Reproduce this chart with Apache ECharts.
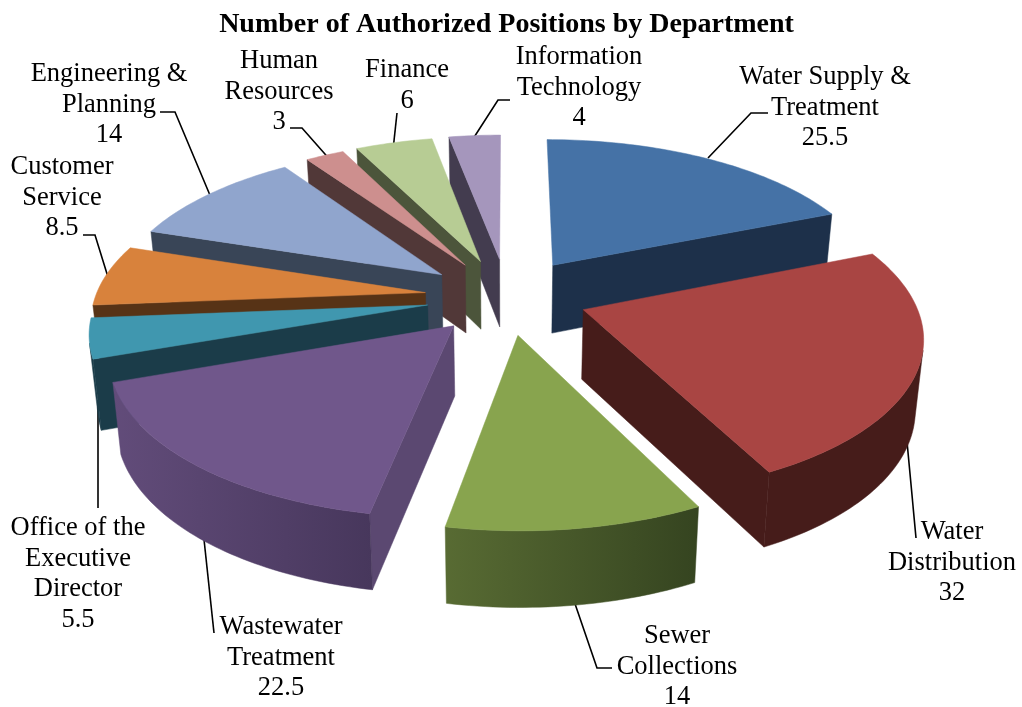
<!DOCTYPE html>
<html><head><meta charset="utf-8">
<style>html,body{margin:0;padding:0;background:#fff}#c{width:1022px;height:707px}</style>
<script src="https://cdn.jsdelivr.net/npm/echarts@6/dist/echarts.min.js"></script>
</head><body><div id="c"></div>
<script>
const departments = ['Water Supply &\nTreatment','Water\nDistribution','Sewer\nCollections','Wastewater\nTreatment','Office of the\nExecutive\nDirector','Customer\nService','Engineering &\nPlanning','Human\nResources','Finance','Information\nTechnology'];
const positions = [25.5,32,14,22.5,5.5,8.5,14,3,6,4];
const topColors = ['#4572a6','#a94543','#88a44e','#70578b','#4097af','#d8823c','#90a5cd','#cd8f8e','#b7cc94','#a596bc'];
const startFace = ['#1d304a','#461c1a','#3a4a20','#5b4871','#1b3c49','#573316','#394557','#513838','#4c553b','#433c4f'];
const endFace   = ['#1d304a','#461c1a','#3a4a20','#4a3a60','#1b3c49','#573316','#394557','#513838','#4c553b','#433c4f'];
const rimStops  = [['#1d304a','#1d304a'],['#461c1a','#461c1a'],['#586b33','#354420'],['#624c7a','#47375c'],['#1b3c49','#1b3c49'],['#573316','#573316'],['#394557','#394557'],['#513838','#513838'],['#4c553b','#4c553b'],['#433c4f','#433c4f']];
const drawOrder = [9,8,7,0,6,5,4,3,1,2];
const CAM = {cx:505,cy:295,a:330,b:153,k:0.15,h:69,kz:0.08,shrink:0.98};
const explode = [0.25,0.25,0.25,0.25,0.25,0.25,0.25,0.25,0.25,0.25];
const nudge = [[3,1],[0,1],[1,1],[4,1],[4,2],[2,2],[1.5,2],[1,2],[1,1.5],[2,1]];
const labelAt = [[825,77],[952,532],[677,636],[281,627],[78,528],[62,167],[109,74],[279,61],[407,70],[579,57]];
const leaders = [[[708,158],[751,113],[768,113]],[[905,420],[916,538]],[[572,595],[597,668],[612,668]],[[203,530],[214,633]],[[98,400],[98,508]],[[112,290],[95,235],[83,235]],[[212,200],[175,112],[160,112]],[[332,162],[302,128],[290,128]],[[393,150],[397,113]],[[471,142],[498,100],[510,100]]];
const FONT='"Liberation Serif","Times New Roman",serif';
const total = positions.reduce((s,v)=>s+v,0);
const starts=[]; positions.reduce((s,v,i)=>{starts[i]=s;return s+v;},0);

function proj(X,Y,z,n){
  const d=1+CAM.k*Y;
  const sx=CAM.cx+(CAM.a*X/d)*(1-(1-CAM.shrink)*z);
  return [sx+n[0], CAM.cy-CAM.b*Y/d+z*CAM.h/(1+CAM.kz*Y)+n[1]];
}
function area(p){let s=0;for(let i=0;i<p.length;i++){const q=p[(i+1)%p.length];s+=p[i][0]*q[1]-q[0]*p[i][1];}return s;}
function renderSlice(params,api){
  const i=api.value(0), v=api.value(1), s0=api.value(2);
  const t0=s0/total*2*Math.PI, t1=(s0+v)/total*2*Math.PI, tm=(t0+t1)/2, e=explode[i], nn=nudge[i];
  const ox=e*Math.sin(tm), oy=e*Math.cos(tm);
  const n=Math.max(8,Math.ceil((t1-t0)/0.02)), P=[];
  for(let j=0;j<=n;j++){const t=t0+(t1-t0)*j/n;P.push([ox+Math.sin(t),oy+Math.cos(t)]);}
  const A=[ox,oy], up=p=>proj(p[0],p[1],0,nn), dn=p=>proj(p[0],p[1],1,nn);
  const kids=[];
  const poly=(pts,fill)=>kids.push({type:'polygon',shape:{points:pts},style:{fill:fill,stroke:fill,lineWidth:0.5}});
  const sf=[up(A),up(P[0]),dn(P[0]),dn(A)]; if(area(sf)<-1500) poly(sf,startFace[i]);
  const ef=[up(P[n]),up(A),dn(A),dn(P[n])]; if(area(ef)<-1500) poly(ef,endFace[i]);
  const tops=[],bots=[];
  for(let j=0;j<n;j++){
    const q=[up(P[j]),up(P[j+1]),dn(P[j+1]),dn(P[j])];
    if(area(q)<0){ if(!tops.length){tops.push(q[0]);bots.push(q[3]);} tops.push(q[1]);bots.push(q[2]); }
  }
  if(tops.length>1){
    poly(tops.concat(bots.reverse()),{type:'linear',x:0,y:0,x2:1,y2:0,colorStops:[{offset:0,color:rimStops[i][0]},{offset:1,color:rimStops[i][1]}]});
  }
  poly([up(A)].concat(P.map(up)),topColors[i]);
  return {type:'group',children:kids};
}
function renderLeader(params,api){
  return {type:'polyline',shape:{points:leaders[api.value(0)]},style:{stroke:'#000',lineWidth:1.6,fill:null}};
}
function renderLabel(params,api){
  const i=api.value(0);
  return {type:'text',x:labelAt[i][0],y:labelAt[i][1]-15,style:{text:departments[i]+'\n'+api.value(1),font:'26.5px '+FONT,fill:'#000',align:'center',verticalAlign:'top',lineHeight:30.5}};
}
const sliceRows=drawOrder.map(i=>[i,positions[i],starts[i]]);
const labelRows=positions.map((v,i)=>[i,v]);
const chart=echarts.init(document.getElementById('c'),null,{renderer:'canvas'});
chart.setOption({
  animation:false,backgroundColor:'#fff',
  title:{text:'Number of Authorized Positions by Department',left:501.5,top:6,textAlign:'center',textStyle:{fontFamily:FONT,fontWeight:'bold',fontSize:28,color:'#000'}},
  series:[
    {type:'custom',coordinateSystem:'none',renderItem:renderLeader,data:labelRows,silent:true,z:1},
    {type:'custom',coordinateSystem:'none',renderItem:renderSlice,data:sliceRows,silent:true,z:2},
    {type:'custom',coordinateSystem:'none',renderItem:renderLabel,data:labelRows,silent:true,z:3}
  ]
});
</script></body></html>
